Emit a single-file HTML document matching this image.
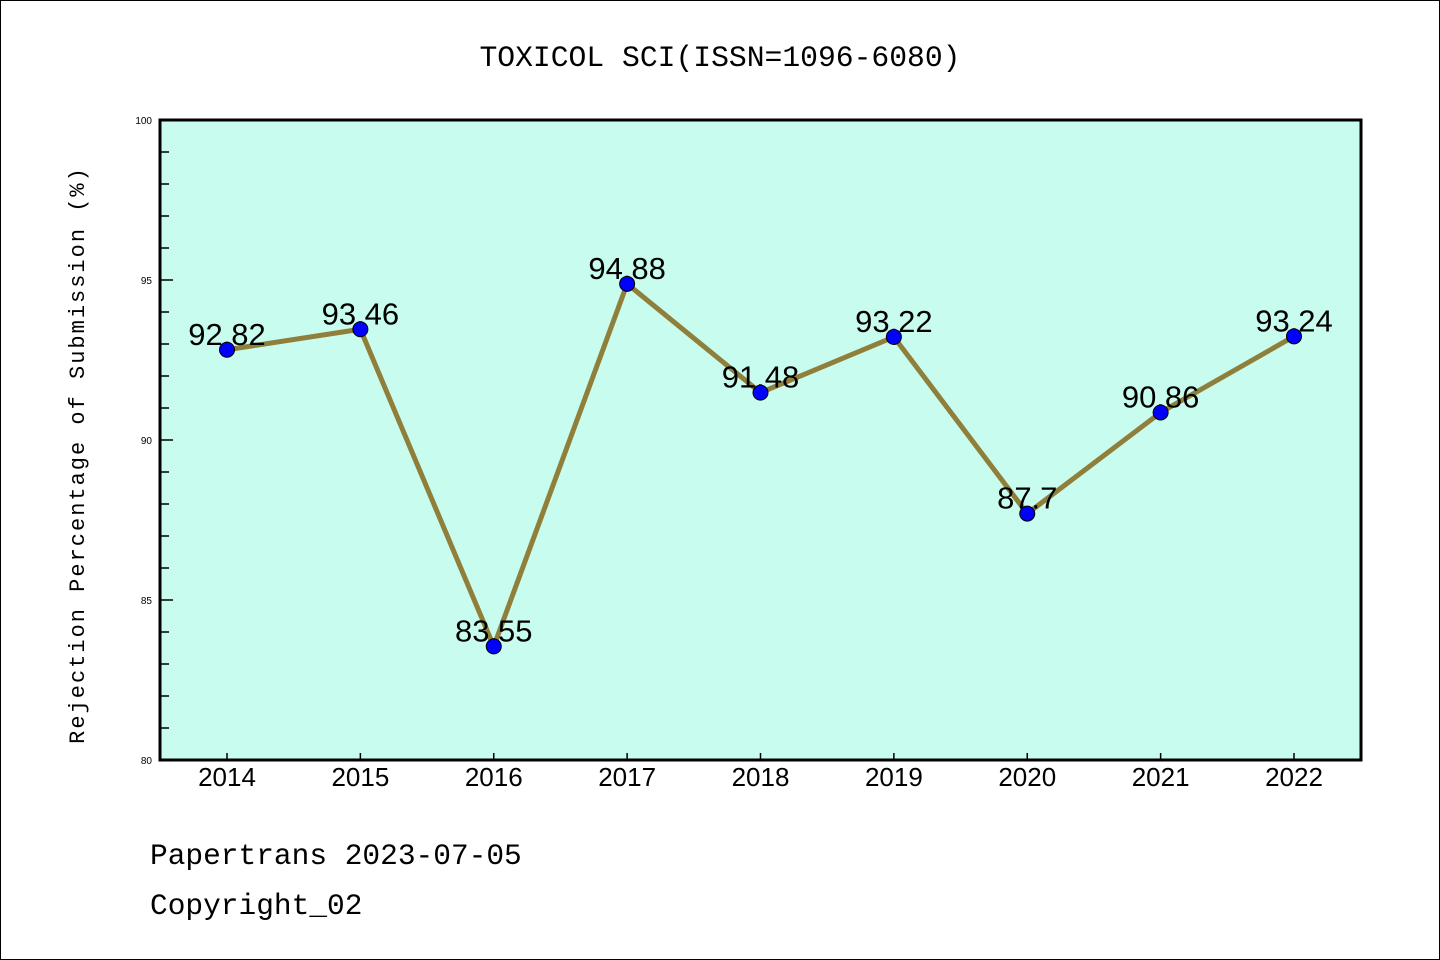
<!DOCTYPE html>
<html><head><meta charset="utf-8"><style>
html,body{margin:0;padding:0;background:#fff;}
svg{display:block;font-family:"Liberation Sans","DejaVu Sans",sans-serif;}
</style></head><body>
<svg id="chart" width="1440" height="960">
<rect x="0.5" y="0.5" width="1439" height="959" fill="#fff" stroke="#000"/>
<text x="720" y="66" text-anchor="middle" font-size="29.7" font-family="'Liberation Mono',monospace">TOXICOL SCI(ISSN=1096-6080)</text>
<rect x="160" y="120" width="1201" height="640" fill="#c8fcee"/>
<g id="ticks"></g>
<g id="series"></g>
<rect x="160" y="120" width="1201" height="640" fill="none" stroke="#000" stroke-width="3"/>
<text transform="translate(84,455) rotate(-90)" text-anchor="middle" font-size="22" font-family="'Liberation Mono',monospace" letter-spacing="2">Rejection Percentage of Submission (%)</text>
<text x="150" y="864" font-size="29.5" font-family="'Liberation Mono',monospace">Papertrans 2023-07-05</text>
<text x="150" y="914" font-size="29.5" font-family="'Liberation Mono',monospace">Copyright_02</text>
</svg>
<script>
const years = ['2014','2015','2016','2017','2018','2019','2020','2021','2022'];
const rates = [92.82, 93.46, 83.55, 94.88, 91.48, 93.22, 87.7, 90.86, 93.24];
const labels = ['92.82','93.46','83.55','94.88','91.48','93.22','87.7','90.86','93.24'];
const yTicks = [80, 85, 90, 95, 100];
const NS='http://www.w3.org/2000/svg';
const X0=227, DX=(1294-227)/(years.length-1);
function xs(i){return X0+i*DX;}
function ys(v){return 760-(v-80)*32;}
function mk(tag,attrs,parent){const e=document.createElementNS(NS,tag);for(const k in attrs)e.setAttribute(k,attrs[k]);parent.appendChild(e);return e;}
const tg=document.getElementById('ticks');
for(let v=80; v<=100; v++){
  const major = yTicks.includes(v);
  const t=mk('line',{x1:160,x2:major?173:169,y1:ys(v),y2:ys(v),stroke:'#000','stroke-width':1.5},tg);
  
  
}
yTicks.forEach(v=>{
  const t=mk('text',{x:152,y:ys(v)+4,'text-anchor':'end','font-size':10},tg);
  t.textContent=v;
  
  
});
years.forEach((y,i)=>{
  const t=mk('line',{x1:xs(i),x2:xs(i),y1:760,y2:753,stroke:'#000','stroke-width':1.5},tg);
  
  
  const l=mk('text',{x:xs(i),y:786,'text-anchor':'middle','font-size':26},tg);
  l.textContent=y;
  
  
});
const sg=document.getElementById('series');
const pl=mk('polyline',{points:rates.map((v,i)=>xs(i)+','+ys(v)).join(' '),fill:'none',stroke:'#8f7f3a','stroke-width':5,'stroke-linejoin':'round'},sg);


rates.forEach((v,i)=>{
  const l=mk('text',{x:xs(i),y:ys(v)-5,'text-anchor':'middle','font-size':31},sg);
  l.textContent=labels[i];
  
  
});
rates.forEach((v,i)=>{
  const c=mk('circle',{cx:xs(i),cy:ys(v),r:7.5,fill:'#0000ff',stroke:'#000','stroke-width':1},sg);
  
  
});
</script>
</body></html>
